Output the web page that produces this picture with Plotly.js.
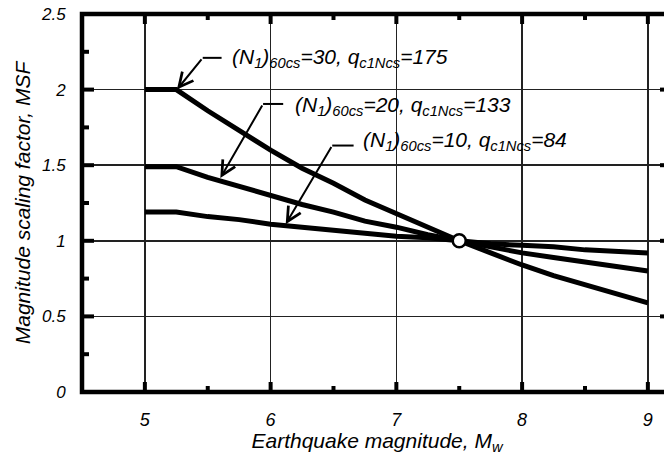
<!DOCTYPE html>
<html>
<head>
<meta charset="utf-8">
<script src="https://cdn.plot.ly/plotly-3.0.1.min.js"></script>
<style>
html,body{margin:0;padding:0;overflow:hidden;background:#fff;}
#chart{width:672px;height:455px;}
</style>
</head>
<body>
<div id="chart"></div>
<script>
// Data
const magnitude = [5, 5.25, 5.5, 5.75, 6, 6.25, 6.5, 6.75, 7, 7.25, 7.5, 7.75, 8, 8.25, 8.5, 8.75, 9];
const msfN30 = [2.00, 2.00, 1.86, 1.73, 1.60, 1.48, 1.38, 1.27, 1.18, 1.09, 1.00, 0.92, 0.84, 0.77, 0.71, 0.65, 0.59];
const msfN20 = [1.49, 1.49, 1.42, 1.36, 1.30, 1.24, 1.19, 1.13, 1.09, 1.04, 1.00, 0.96, 0.92, 0.89, 0.86, 0.83, 0.80];
const msfN10 = [1.19, 1.19, 1.16, 1.14, 1.11, 1.09, 1.07, 1.05, 1.03, 1.02, 1.00, 0.98, 0.97, 0.96, 0.94, 0.93, 0.92];
const refPointM = [7.5];
const refPointMSF = [1.0];
const seriesLabels = [
  "(N<sub>1</sub>)<sub>60cs</sub>=30, q<sub>c1Ncs</sub>=175",
  "(N<sub>1</sub>)<sub>60cs</sub>=20, q<sub>c1Ncs</sub>=133",
  "(N<sub>1</sub>)<sub>60cs</sub>=10, q<sub>c1Ncs</sub>=84"
];
// tick positions
const xMajorTicks = [5, 6, 7, 8, 9];
const xMinorTicks = [5.5, 6.5, 7.5, 8.5];
const yMajorTicks = [0.5, 1, 1.5, 2];
const yMinorTicks = [0.25, 0.75, 1.25, 1.75, 2.25];
const xTitle = "Earthquake magnitude, M<sub>w</sub>";
const yTitle = "Magnitude scaling factor, MSF";

const FONT = "Liberation Sans, Arial, sans-serif";
const XRANGE = [4.5, 9.192];
const YRANGE = [0, 2.5];

function curve(y) {
  return {x: magnitude, y: y, mode: "lines", line: {color: "#000", width: 5}, hoverinfo: "skip"};
}
const traces = [
  curve(msfN30), curve(msfN20), curve(msfN10),
  {x: refPointM, y: refPointMSF, mode: "markers",
   marker: {size: 13, color: "#fff", line: {color: "#000", width: 2.5}}, hoverinfo: "skip"}
];

// annotation geometry: [tipX, tipY, elbowX, elbowY, leaderEndX, textX, textY]
const callouts = [
  [5.255, 2.0, 5.46, 2.21, 5.61, 5.68, 2.21],
  [5.60, 1.415, 5.94, 1.905, 6.10, 6.18, 1.89],
  [6.12, 1.11, 6.49, 1.63, 6.66, 6.72, 1.66]
];

const annotations = [];
const shapes = [];
callouts.forEach((c, i) => {
  annotations.push({
    x: c[0], y: c[1], ax: c[2], ay: c[3], axref: "x", ayref: "y",
    text: "", showarrow: true, arrowhead: 5, arrowsize: 1.4, arrowwidth: 2, arrowcolor: "#000"
  });
  shapes.push({type: "line", xref: "x", yref: "y", x0: c[2], y0: c[3], x1: c[4], y1: c[3],
    line: {color: "#000", width: 2}});
  annotations.push({
    x: c[5], y: c[6], xanchor: "left", yanchor: "middle",
    text: seriesLabels[i], showarrow: false,
    font: {family: FONT, size: 21, color: "#000", style: "italic"}
  });
});

// inward tick marks on all four sides (pixel-sized, anchored on the axis scales)
function xTick(v, side, len) {
  return {type: "line", xref: "x", yref: "paper", ysizemode: "pixel", yanchor: side,
    x0: v, x1: v, y0: 0, y1: side === 0 ? len : -len, line: {color: "#000", width: 4}};
}
function yTick(v, side, len) {
  return {type: "line", xref: "paper", yref: "y", xsizemode: "pixel", xanchor: side,
    y0: v, y1: v, x0: 0, x1: side === 0 ? len : -len, line: {color: "#000", width: 4}};
}
[0, 1].forEach(side => {
  xMajorTicks.forEach(v => shapes.push(xTick(v, side, 10)));
  xMinorTicks.forEach(v => shapes.push(xTick(v, side, 6)));
  yMajorTicks.forEach(v => shapes.push(yTick(v, side, 12)));
  yMinorTicks.forEach(v => shapes.push(yTick(v, side, 7)));
});
// plot frame
shapes.push({type: "rect", xref: "paper", yref: "paper", x0: 0, x1: 1, y0: 0, y1: 1,
  line: {color: "#000", width: 4.5}, fillcolor: "rgba(0,0,0,0)"});

const layout = {
  width: 672, height: 455,
  margin: {l: 82, r: 0, t: 14, b: 63},
  showlegend: false,
  xaxis: {
    range: XRANGE, dtick: 1, tick0: 0,
    showline: false, zeroline: false,
    showgrid: true, gridcolor: "#222", gridwidth: 1.5,
    ticks: "outside", ticklen: 11, tickcolor: "rgba(0,0,0,0)",
    tickfont: {family: FONT, size: 18, color: "#000", style: "italic"},
    title: {text: xTitle, standoff: 4, font: {family: FONT, size: 21, color: "#000", style: "italic"}}
  },
  yaxis: {
    range: YRANGE, dtick: 0.5, tick0: 0,
    showline: false, zeroline: false,
    showgrid: true, gridcolor: "#222", gridwidth: 1.5,
    ticks: "outside", ticklen: 12, tickcolor: "rgba(0,0,0,0)",
    tickfont: {family: FONT, size: 17, color: "#000", style: "italic"},
    title: {text: yTitle, standoff: 4, font: {family: FONT, size: 21, color: "#000", style: "italic"}}
  },
  annotations: annotations,
  shapes: shapes
};

Plotly.newPlot("chart", traces, layout, {staticPlot: true});
</script>
</body>
</html>
